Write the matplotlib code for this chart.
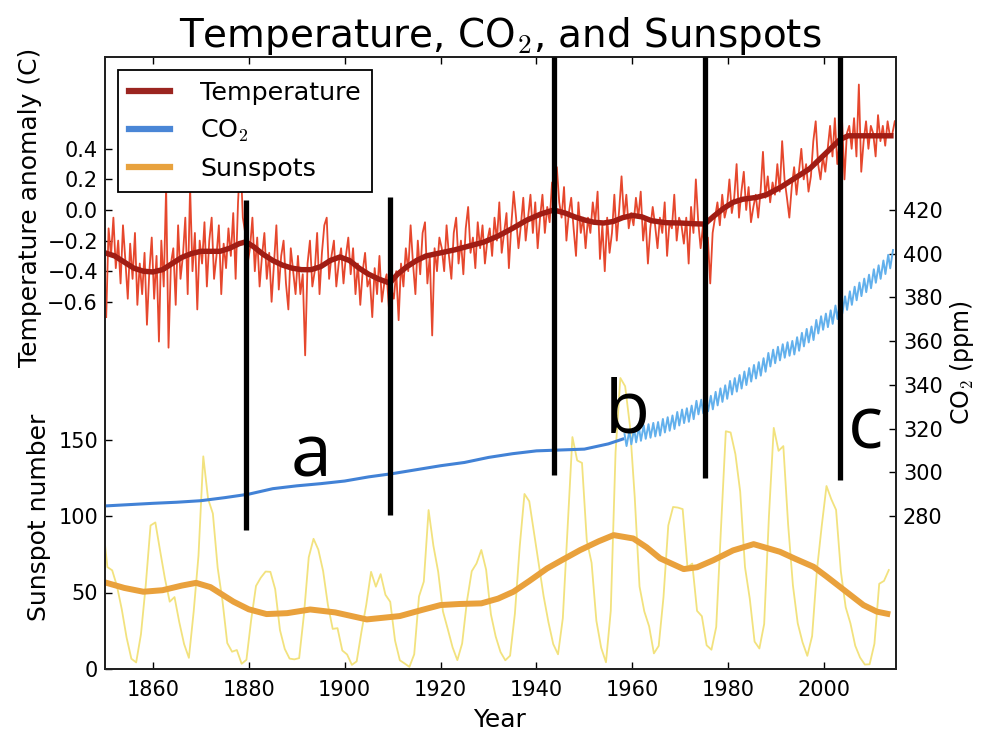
import matplotlib
matplotlib.use("Agg")
import matplotlib.pyplot as plt
import numpy as np
from matplotlib.lines import Line2D

plt.rcParams['font.family'] = ['DejaVu Sans']
plt.rcParams['mathtext.fontset'] = 'cm'

# ---------------- data ----------------
# Annual sunspot number (plotted at mid-year)
sun_years = list(range(1849, 2014))
sunspots = [95.8,
    66.6, 64.5, 54.1, 39.0, 20.6, 6.7, 4.3, 22.7, 54.8, 93.8,
    95.8, 77.2, 59.1, 44.0, 47.0, 30.5, 16.3, 7.3, 37.6, 74.0,
    139.0, 111.2, 101.6, 66.2, 44.7, 17.0, 11.3, 12.4, 3.4, 6.0,
    32.3, 54.3, 59.7, 63.7, 63.5, 52.2, 25.4, 13.1, 6.8, 6.3,
    7.1, 35.6, 73.0, 85.1, 78.0, 64.0, 41.8, 26.2, 26.7, 12.1,
    9.5, 2.7, 5.0, 24.4, 42.0, 63.5, 53.8, 62.0, 48.5, 43.9,
    18.6, 5.7, 3.6, 1.4, 9.6, 47.4, 57.1, 103.9, 80.6, 63.6,
    37.6, 26.1, 14.2, 5.8, 16.7, 44.3, 63.9, 69.0, 77.8, 64.9,
    35.7, 21.2, 11.1, 5.7, 8.7, 36.1, 79.7, 114.4, 109.6, 88.8,
    67.8, 47.5, 30.6, 16.3, 9.6, 33.2, 92.6, 151.6, 136.3, 134.7,
    83.9, 69.4, 31.5, 13.9, 4.4, 38.0, 141.7, 190.2, 184.8, 159.0,
    112.3, 53.9, 37.6, 27.9, 10.2, 15.1, 47.0, 93.8, 105.9, 105.5,
    104.5, 66.6, 68.9, 38.0, 34.5, 15.5, 12.6, 27.5, 92.5, 155.4,
    154.6, 140.4, 115.9, 66.6, 45.9, 17.9, 13.4, 29.4, 100.2, 157.6,
    142.6, 145.7, 94.3, 54.6, 29.9, 17.5, 8.6, 21.5, 64.3, 93.3,
    119.6, 111.0, 104.0, 63.7, 40.4, 29.8, 15.2, 7.5, 2.9, 3.1,
    16.5, 55.7, 57.6, 64.7]

# Smoothed sunspot number
sun_smooth_years = [1850, 1854, 1858, 1862, 1866, 1869, 1872, 1876.8, 1880, 1883.7,
                    1888, 1892.8, 1898, 1904.6, 1911.5, 1916, 1920, 1924, 1928.5,
                    1932, 1935.2, 1938.5, 1942.2, 1945.5, 1949.1, 1953, 1956.1,
                    1960.2, 1963, 1965.8, 1970.7, 1973.5, 1976.9, 1981, 1985.3,
                    1990.8, 1994, 1997.8, 2000.5, 2003.3, 2008.2, 2011, 2013.8]
sun_smooth = [56.6, 53.0, 50.5, 51.5, 54.5, 56.3, 53.5, 44.0, 39.0, 35.9,
              36.5, 38.9, 37.0, 32.4, 34.6, 38.5, 41.8, 42.5, 42.9,
              46.0, 50.5, 57.5, 65.7, 71.5, 77.7, 83.5, 87.5,
              85.3, 79.5, 72.3, 65.3, 66.5, 71.1, 77.5, 81.6,
              76.6, 72.0, 66.8, 60.5, 53.7, 41.8, 37.5, 35.7]

# Temperature anomaly, two values per year, 1850-2014
temp_raw = [
    -0.70, -0.12, -0.30, -0.05, -0.38, -0.20, -0.48, -0.10, -0.33, -0.58,
    -0.22, -0.45, -0.15, -0.62, -0.35, -0.55, -0.28, -0.75, -0.40, -0.18,
    -0.58, -0.30, -0.86, -0.20, -0.50, 0.15, -0.90, -0.35, -0.25, -0.62,
    -0.10, -0.45, -0.30, -0.05, -0.55, 0.15, -0.40, -0.15, -0.65, -0.20,
    -0.35, -0.08, -0.50, -0.20, -0.05, -0.45, -0.30, -0.10, -0.55, -0.22,
    -0.38, -0.12, -0.30, -0.02, -0.45, 0.05, 0.36, -0.05, -0.15, -0.35,
    -0.25, -0.05, -0.40, -0.18, -0.50, -0.30, -0.15, -0.45, -0.28, -0.60,
    -0.35, -0.10, -0.52, -0.30, -0.20, -0.48, -0.65, -0.25, -0.40, -0.55,
    -0.30, -0.55, -0.42, -0.95, -0.35, -0.20, -0.50, -0.40, -0.15, -0.55,
    -0.28, -0.10, -0.05, -0.45, -0.30, -0.20, -0.50, -0.35, -0.25, -0.48,
    -0.30, -0.18, -0.42, -0.25, -0.55, -0.35, -0.62, -0.40, -0.28, -0.50,
    -0.45, -0.70, -0.38, -0.55, -0.30, -0.60, -0.48, -0.42, -0.65, -0.52,
    -0.58, -0.40, -0.72, -0.35, -0.50, -0.25, -0.40, -0.10, -0.35, -0.55,
    -0.20, -0.42, -0.15, -0.08, -0.48, -0.30, -0.82, -0.25, -0.40, -0.18,
    -0.25, -0.40, -0.10, -0.30, -0.45, -0.15, -0.05, -0.35, -0.20, -0.42,
    -0.12, 0.02, -0.28, -0.18, -0.38, -0.08, -0.25, -0.10, -0.35, -0.20,
    -0.12, -0.30, -0.05, -0.20, 0.05, -0.28, -0.15, -0.02, -0.38, -0.10,
    0.12, -0.05, -0.25, -0.10, 0.08, -0.20, -0.05, 0.10, -0.15, 0.05,
    -0.25, -0.05, 0.10, -0.15, 0.02, -0.08, 0.18, -0.02, 0.28, 0.05,
    -0.05, 0.15, -0.20, -0.02, 0.08, -0.12, -0.30, 0.05, -0.15, -0.05,
    -0.25, -0.05, -0.15, 0.05, -0.08, 0.12, -0.32, -0.10, -0.40, -0.05,
    -0.28, -0.15, 0.10, -0.20, 0.00, 0.22, -0.05, 0.10, -0.12, -0.02,
    -0.10, 0.08, -0.05, 0.12, -0.20, -0.05, -0.35, -0.12, 0.02, -0.10,
    -0.25, -0.05, -0.15, 0.05, -0.30, -0.08, -0.12, 0.10, -0.20, -0.05,
    -0.10, -0.22, -0.05, -0.35, 0.02, -0.15, 0.20, -0.08, -0.25, -0.10,
    -0.40, -0.18, -0.48, -0.15, -0.05, 0.05, -0.10, 0.10, -0.05, 0.02,
    0.20, -0.02, 0.08, 0.30, -0.05, 0.12, 0.25, 0.00, 0.15, -0.08,
    0.02, 0.10, -0.05, 0.12, 0.38, 0.08, 0.22, 0.05, 0.18, 0.10,
    0.30, 0.12, 0.45, 0.20, 0.08, -0.05, 0.15, 0.28, 0.10, 0.25,
    0.40, 0.20, 0.30, 0.12, 0.22, 0.45, 0.58, 0.30, 0.20, 0.35,
    0.25, 0.40, 0.55, 0.35, 0.60, 0.30, 0.45, 0.58, 0.20, 0.50,
    0.55, 0.40, 0.60, 0.35, 0.82, 0.25, 0.45, 0.58, 0.40, 0.55,
    0.50, 0.35, 0.62, 0.45, 0.55, 0.42, 0.58, 0.48, 0.50, 0.58]
temp_start_year = 1850
temp_per_year = 2

# Smoothed temperature (piecewise, kinks at the marked years)
temp_smooth_years = [1850, 1852, 1854, 1856, 1858, 1860, 1862, 1864, 1866, 1868,
                     1870, 1872, 1874, 1876, 1878, 1879.4, 1881, 1883, 1885, 1887,
                     1889, 1891, 1893, 1895, 1897, 1899, 1901, 1903, 1905, 1907,
                     1909.4, 1911, 1913, 1915, 1917, 1920, 1923, 1926, 1929, 1932,
                     1935, 1938, 1941, 1943.6, 1946, 1948, 1950, 1952, 1954, 1956,
                     1958, 1960, 1962, 1964, 1967, 1970, 1973, 1975.1, 1977, 1979,
                     1981, 1983, 1986, 1988, 1991, 1994, 1997, 2000, 2003.3, 2005,
                     2014.5]
temp_smooth = [-0.28, -0.30, -0.34, -0.38, -0.40, -0.405, -0.39, -0.35, -0.31, -0.285,
               -0.27, -0.27, -0.27, -0.25, -0.22, -0.208, -0.24, -0.29, -0.33, -0.36,
               -0.38, -0.39, -0.39, -0.37, -0.33, -0.307, -0.33, -0.38, -0.42, -0.45,
               -0.478, -0.42, -0.37, -0.33, -0.30, -0.28, -0.26, -0.235, -0.21, -0.17,
               -0.12, -0.066, -0.025, 0.0, -0.02, -0.045, -0.065, -0.08, -0.085, -0.075,
               -0.05, -0.035, -0.045, -0.07, -0.083, -0.085, -0.09, -0.092, -0.04, 0.01,
               0.05, 0.07, 0.083, 0.10, 0.15, 0.21, 0.27, 0.36, 0.46, 0.485,
               0.485]

# CO2, ice core (ppm)
co2_ice_years = [1850, 1855, 1860, 1865, 1870, 1875, 1880, 1885, 1890, 1895, 1900,
                 1905, 1910, 1915, 1920, 1925, 1930, 1935, 1940, 1945, 1950, 1955, 1958]
co2_ice = [284.6, 285.2, 285.8, 286.3, 287.0, 288.4, 290.0, 292.5, 293.8, 294.8, 296.0,
           297.9, 299.4, 301.2, 303.0, 304.5, 306.8, 308.5, 309.8, 310.2, 310.6, 313.0, 315.2]

# CO2, Mauna Loa: yearly seasonal maximum (May) and minimum (October)
ml_years = list(range(1958, 2015))
ml_peak_month = 5
ml_trough_month = 10
ml_peaks = [317.5, 318.9, 320.0, 320.6, 321.5, 322.0, 322.6, 323.0, 324.4, 325.2,
            326.0, 327.6, 328.7, 329.3, 330.5, 332.7, 333.2, 334.1, 335.0, 336.8,
            338.4, 339.8, 341.8, 343.1, 344.5, 346.1, 347.7, 349.1, 350.4, 352.2,
            354.6, 356.1, 357.4, 358.6, 359.5, 360.1, 361.8, 363.8, 365.6, 366.7,
            369.7, 371.4, 372.6, 374.1, 376.3, 378.8, 380.5, 382.8, 384.9, 386.8,
            388.6, 390.4, 392.9, 394.7, 396.9, 399.5, 401.7]
ml_troughs = [312.0, 312.8, 313.7, 314.4, 315.3, 315.8, 316.4, 316.8, 318.2, 319.0,
              319.8, 321.4, 322.5, 323.1, 324.3, 326.5, 327.0, 327.9, 328.8, 330.6,
              332.2, 333.6, 335.6, 336.9, 338.3, 339.9, 341.5, 342.9, 344.2, 346.0,
              348.4, 349.9, 351.2, 352.4, 353.3, 353.9, 355.6, 357.6, 359.4, 360.5,
              363.5, 365.2, 366.4, 367.9, 370.1, 372.6, 374.3, 376.6, 378.7, 380.6,
              382.4, 384.2, 386.7, 388.5, 390.7, 393.3]

x_ticks = [1860, 1880, 1900, 1920, 1940, 1960, 1980, 2000]
temp_ticks = [0.4, 0.2, 0.0, -0.2, -0.4, -0.6]
sun_ticks = [0, 50, 100, 150]
co2_ticks = [280, 300, 320, 340, 360, 380, 400, 420]

# vertical marker lines and letters
mark_years = [1879.4, 1909.4, 1943.6, 1975.1, 2003.3]
mark_bottom = [0.227, 0.252, 0.317, 0.312, 0.309]
mark_top = [0.766, 0.771, 1.0, 1.0, 1.0]
letters = ['a', 'b', 'c']
letter_years = [1893.0, 1958.9, 2008.6]
letter_y = [0.314, 0.387, 0.361]

# ---------------- colors ----------------
c_temp_raw = '#E6472D'
c_temp_smooth = '#A11D14'
c_co2_ice = '#4282D6'
c_co2_ml = '#62B0EC'
c_sun_raw = '#F2E27E'
c_sun_smooth = '#E9A13C'

# ---------------- figure ----------------
W, H = 986, 750
fig = plt.figure(figsize=(W / 100, H / 100), dpi=100)
fig.patch.set_facecolor('white')
rect = [105 / W, (H - 669) / H, (896 - 105) / W, (669 - 57) / H]

ax_s = fig.add_axes(rect)
ax_t = ax_s.twinx()
ax_c = ax_s.twinx()

# sunspots
sx = np.array(sun_years) + 0.5
ax_s.plot(sx, sunspots, color=c_sun_raw, lw=1.3)
ax_s.plot(sun_smooth_years, sun_smooth, color=c_sun_smooth, lw=4.3, solid_capstyle='butt')
ax_s.set_ylim(0, 400)
ax_s.set_xlim(1850, 2015)

# temperature
tx = temp_start_year + (np.arange(len(temp_raw)) + 0.5) / temp_per_year
ax_t.plot(tx, temp_raw, color=c_temp_raw, lw=1.3)
ax_t.plot(temp_smooth_years, temp_smooth, color=c_temp_smooth, lw=3.9,
          solid_capstyle='butt')
ax_t.set_ylim(-3.0, 1.0)

# CO2
ax_c.plot(co2_ice_years, co2_ice, color=c_co2_ice, lw=2.2)
mx, my = [], []
for i, yr in enumerate(ml_years):
    mx.append(yr + (ml_peak_month - 0.5) / 12)
    my.append(ml_peaks[i])
    if i < len(ml_troughs):
        mx.append(yr + (ml_trough_month - 0.5) / 12)
        my.append(ml_troughs[i])
ax_c.plot(mx, my, color=c_co2_ml, lw=1.4)
ax_c.set_ylim(210, 490)

# ---------------- ticks ----------------
tick_kw = dict(direction='in', length=5, width=1, labelsize=15, colors='black')
ax_s.set_xticks(x_ticks)
ax_s.tick_params(axis='x', top=True, bottom=True, pad=8, **tick_kw)
ax_s.set_yticks(sun_ticks)
ax_s.tick_params(axis='y', left=True, right=False, pad=5, **tick_kw)

ax_t.yaxis.tick_left()
ax_t.set_yticks(temp_ticks)
ax_t.set_yticklabels(['%.1f' % v if v >= 0 else '\u2212%.1f' % abs(v) for v in temp_ticks])
ax_t.tick_params(axis='y', left=True, right=False, labelleft=True, labelright=False,
                 pad=5, **tick_kw)

ax_c.set_yticks(co2_ticks)
ax_c.tick_params(axis='y', left=False, right=True, labelleft=False, labelright=True,
                 pad=5, **tick_kw)

for a in (ax_s, ax_t, ax_c):
    for sp in a.spines.values():
        sp.set_linewidth(1.3)
        sp.set_color('#222222')
    a.patch.set_visible(False)
ax_s.patch.set_visible(True)
ax_s.patch.set_facecolor('white')

# ---------------- marker lines & letters ----------------
for xv, y0, y1 in zip(mark_years, mark_bottom, mark_top):
    ax_c.axvline(xv, ymin=y0, ymax=y1, color='black', lw=3.8, zorder=10,
                 solid_capstyle='butt')
for ch, xv, yv in zip(letters, letter_years, letter_y):
    ax_c.text(xv, yv, ch, transform=ax_c.get_xaxis_transform(), fontsize=53,
              family='Open Sans', ha='center', va='baseline', color='black', zorder=11)

# ---------------- legend ----------------
handles = [Line2D([], [], color='#9B2520', lw=4.5),
           Line2D([], [], color='#4A86D6', lw=4.5),
           Line2D([], [], color='#E8A23E', lw=4.5)]
leg = ax_c.legend(handles, ['Temperature', 'CO$_2$', 'Sunspots'], loc='upper left',
                  fontsize=18.3, frameon=True, fancybox=False, framealpha=1,
                  edgecolor='black', borderaxespad=0.5, handlelength=1.6,
                  handletextpad=1.2, labelspacing=0.5, borderpad=0.45)
leg.get_frame().set_linewidth(1.3)
leg.set_zorder(20)

# ---------------- labels ----------------
ax_s.set_title('Temperature, CO$_2$, and Sunspots', fontsize=28, pad=1)
fig.text(500 / W, 1 - 727 / H, 'Year', fontsize=18, ha='center', va='baseline')
fig.text(30 / W, 1 - 207 / H, 'Temperature anomaly (C)', fontsize=18, rotation=90,
         ha='center', va='center')
fig.text(39 / W, 1 - 517 / H, 'Sunspot number', fontsize=18, rotation=90,
         ha='center', va='center')
fig.text(962 / W, 1 - 363 / H, 'CO$_2$ (ppm)', fontsize=17, rotation=90,
         ha='center', va='center')

fig.savefig('out.png', dpi=100, facecolor='white')
